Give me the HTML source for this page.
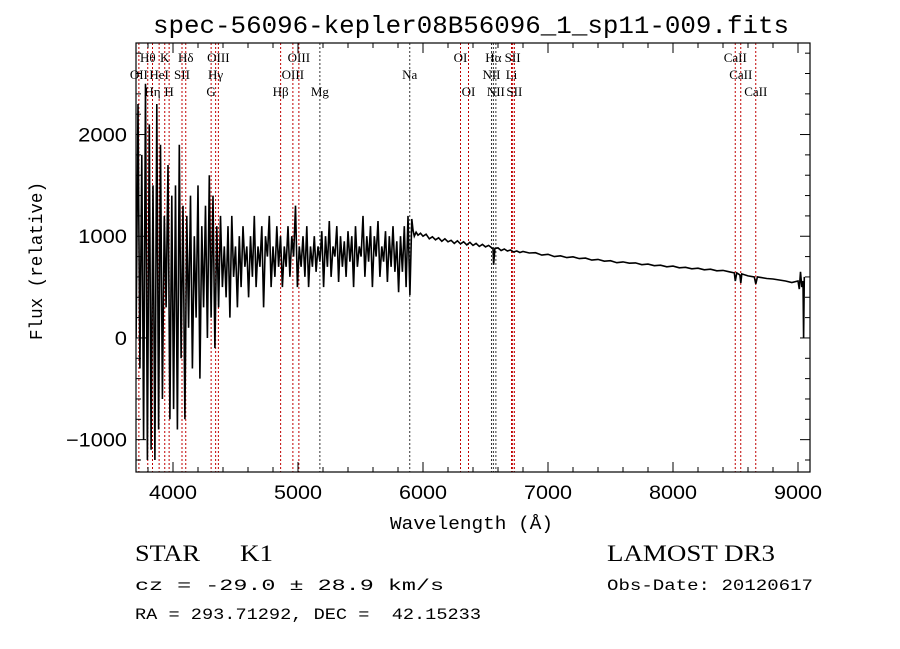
<!DOCTYPE html>
<html><head><meta charset="utf-8">
<style>
html,body{margin:0;padding:0;background:#fff;}
svg{display:block;}
.mono{font-family:"Liberation Mono",monospace;}
.serif{font-family:"Liberation Serif",serif;}
</style></head>
<body>
<svg id="chart" width="900" height="649" viewBox="0 0 900 649">
<rect width="900" height="649" fill="#fff"/>
<text x="153" y="33" textLength="636" lengthAdjust="spacingAndGlyphs" class="mono" font-size="25">spec-56096-kepler08B56096_1_sp11-009.fits</text>
<g id="grid-lines"></g>
<g id="line-labels"></g>
<g id="series"></g>
<g id="axes"></g>
<text x="390" y="529" textLength="163" lengthAdjust="spacingAndGlyphs" class="mono" font-size="18">Wavelength (Å)</text>
<text transform="translate(42,340) rotate(-90)" textLength="158" lengthAdjust="spacingAndGlyphs" class="mono" font-size="18">Flux (relative)</text>
<text x="135" y="561" textLength="65" lengthAdjust="spacingAndGlyphs" class="serif" font-size="23">STAR</text>
<text x="240" y="561" textLength="33" lengthAdjust="spacingAndGlyphs" class="serif" font-size="23">K1</text>
<text x="135" y="590" textLength="309" lengthAdjust="spacingAndGlyphs" class="mono" font-size="16">cz = -29.0 ± 28.9 km/s</text>
<text x="135" y="619" textLength="346" lengthAdjust="spacingAndGlyphs" class="mono" font-size="16" xml:space="preserve" style="white-space:pre">RA = 293.71292, DEC =  42.15233</text>
<text x="607" y="561" textLength="168" lengthAdjust="spacingAndGlyphs" class="serif" font-size="23">LAMOST DR3</text>
<text x="607" y="590" textLength="206" lengthAdjust="spacingAndGlyphs" class="mono" font-size="16">Obs-Date: 20120617</text>
</svg>
<script>
const xTicks=[4000,5000,6000,7000,8000,9000];
const yTicks=[-1000,0,1000,2000];
const lineWl=[3727,3798,3836,3889,3934,3969,4072,4102,4305,4341,4363,4861,4959,5007,5175,5894,6300,6364,6548,6563,6583,6708,6717,6731,8498,8542,8662];
const lineName=["OII","Hθ","Hη","HeI","K","H","SII","Hδ","G","Hγ","OIII","Hβ","OIII","OIII","Mg","Na","OI","OI","NII","Hα","NII","Li","SII","SII","CaII","CaII","CaII"];
const lineRow=[2,1,3,2,1,3,2,1,3,2,1,3,2,1,3,2,1,3,2,1,3,2,1,3,1,2,3];
const lineBlack=[0,0,0,0,0,0,0,0,0,0,0,0,0,0,1,1,0,0,1,1,1,0,0,0,0,0,0];
const noisyStart=3705, noisyStep=15;
const noisyFlux=[0,2300,-300,1800,-1000,2500,-1200,2100,-1100,1500,-1200,2300,-900,1900,-600,1200,300,1700,-800,1400,
-700,1500,-900,1900,-200,1300,-800,1200,100,1400,-300,1000,200,1500,-400,1100,300,1300,0,1600,
200,1400,-100,1100,300,1200,500,900,400,1100,200,1200,600,900,300,1000,500,1100,700,900,
400,1000,600,1200,500,900,700,1100,300,1000,800,1200,500,900,600,1100,700,1000,500,900,
700,1100,600,1000,800,1300,500,900,700,1000,600,1100,500,900,700,1000,650,900,750,1050,
500,1000,700,1150,600,900,800,1100,550,1000,700,950,600,1050,750,1000,500,1100,700,900,
800,1200,600,1000,750,1100,500,1000,800,1150,600,900,750,1050,550,1000,700,1100,650,950,
450,1000,650,1100,500,1200,420];
const smoothWl=[5910,5920,5930,5945,5960,5980,6000,6025,6050,6075,6100,6125,6150,6175,6200,6225,6250,6275,6300,6325,6350,6375,6400,6425,6450,6475,6500,6525,6550,6560,6565,6575,6600,6625,6650,6675,6700,6725,6750,6775,6800,6850,6900,6950,7000,7050,7100,7150,7200,7250,7300,7350,7400,7450,7500,7550,7600,7650,7700,7750,7800,7850,7900,7950,8000,8050,8100,8150,8200,8250,8300,8350,8400,8450,8490,8498,8510,8535,8542,8550,8600,8650,8662,8675,8700,8750,8800,8850,8900,8950,9000,9010,9020,9030,9040,9045,9050];
const smoothFlux=[1170,1060,1000,1040,1010,1030,1000,1020,975,995,965,985,950,975,945,960,930,955,925,945,915,940,910,930,900,920,895,910,885,880,720,880,885,860,875,855,865,845,855,840,850,835,838,815,822,800,808,790,798,780,785,765,772,755,760,740,748,735,738,720,726,710,715,700,706,690,695,680,686,670,676,660,664,650,640,560,640,620,540,630,610,600,530,600,595,585,580,570,560,545,560,480,650,500,560,0,600];

const X0=136,X1=810,Y0=43,Y1=472;
const WMIN=3704,WMAX=9096,FMIN=-1318,FMAX=2900;
const sx=w=>X0+(w-WMIN)/(WMAX-WMIN)*(X1-X0);
const sy=f=>Y1-(f-FMIN)/(FMAX-FMIN)*(Y1-Y0);
const NS="http://www.w3.org/2000/svg";
function mk(tag,attrs,parent){const e=document.createElementNS(NS,tag);for(const k in attrs)e.setAttribute(k,attrs[k]);parent.appendChild(e);return e;}

const gl=document.getElementById('grid-lines'), ll=document.getElementById('line-labels');
lineWl.forEach((w,i)=>{
  const x=sx(w);
  const l=mk('line',{x1:x,x2:x,y1:Y0,y2:Y1,stroke:lineBlack[i]?'#333':'#c00000','stroke-width':1,'stroke-dasharray':'2,2'},gl);
  
  
  const t=mk('text',{x:x,y:62+(lineRow[i]-1)*17,'text-anchor':'middle','font-family':'"Liberation Serif",serif','font-size':13},ll);
  t.textContent=lineName[i];
  
  
});

const pts=[];
noisyFlux.forEach((f,i)=>pts.push(sx(noisyStart+i*noisyStep).toFixed(1)+','+sy(f).toFixed(1)));
smoothWl.forEach((w,i)=>pts.push(sx(w).toFixed(1)+','+sy(smoothFlux[i]).toFixed(1)));
const sg=document.getElementById('series');
const cp=mk('clipPath',{id:'clip'},sg);mk('rect',{x:X0,y:Y0,width:X1-X0,height:Y1-Y0},cp);
const pl=mk('polyline',{points:pts.join(' '),fill:'none',stroke:'#000','stroke-width':1.6,'stroke-linejoin':'miter','clip-path':'url(#clip)'},sg);



const ax=document.getElementById('axes');
const fr=mk('rect',{x:X0,y:Y0,width:X1-X0,height:Y1-Y0,fill:'none',stroke:'#000','stroke-width':1.2},ax);


for(let w=3800;w<=9000;w+=200){
  const x=sx(w),L=(w%1000===0)?10:5;
  mk('line',{x1:x,x2:x,y1:Y1,y2:Y1-L,stroke:'#000'},ax);
  mk('line',{x1:x,x2:x,y1:Y0,y2:Y0+L,stroke:'#000'},ax);
}
for(let f=-1200;f<=2800;f+=200){
  const y=sy(f),L=(f%1000===0)?10:5;
  mk('line',{x1:X0,x2:X0+L,y1:y,y2:y,stroke:'#000'},ax);
  mk('line',{x1:X1,x2:X1-L,y1:y,y2:y,stroke:'#000'},ax);
}
xTicks.forEach(w=>{
  const t=mk('text',{x:sx(w)-24,y:Y1+27,textLength:48,lengthAdjust:'spacingAndGlyphs','font-family':'"Liberation Sans",sans-serif','font-size':19},ax);
  t.textContent=w;
  
  
});
yTicks.forEach(f=>{
  const s=f<0?'\u2212'+Math.abs(f):String(f);
  const wdt=s.length*12.2;
  const t=mk('text',{x:X0-9-wdt,y:sy(f)+7,textLength:wdt,lengthAdjust:'spacingAndGlyphs','font-family':'"Liberation Sans",sans-serif','font-size':19},ax);
  t.textContent=s;
  
  
});
</script>
</body></html>
